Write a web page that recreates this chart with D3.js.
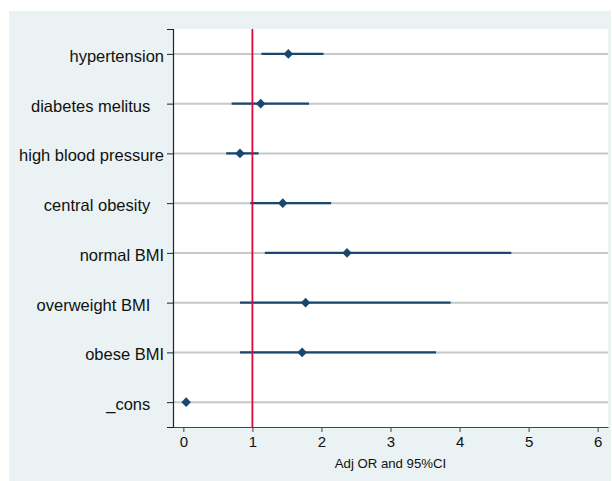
<!DOCTYPE html>
<html><head><meta charset="utf-8">
<script src="https://cdn.jsdelivr.net/npm/d3@7"></script>
<style>
body{margin:0;background:#fff;}
svg text{font-family:"Liberation Sans",Arial,Helvetica,sans-serif;fill:#111;}
</style></head>
<body><svg id="c" width="612" height="481"></svg>
<script>
const labels = ["hypertension","diabetes melitus   ","high blood pressure","central obesity   ","normal BMI","overweight BMI   ","obese BMI","_cons   "];
const or    = [1.52, 1.12, 0.82, 1.44, 2.37, 1.77, 1.72, 0.04];
const lower = [1.13, 0.70, 0.62, 0.97, 1.18, 0.82, 0.82, 0.03];
const upper = [2.03, 1.82, 1.09, 2.14, 4.75, 3.87, 3.66, 0.06];
const xTicks = [0,1,2,3,4,5,6];
const refLine = 1;

const svg = d3.select("#c");
const L = 173, R = 608, T = 29, B = 427;

svg.append("rect").attr("x",9).attr("y",11).attr("width",602).attr("height",470).attr("fill","#eaf2f3");
svg.append("rect").attr("x",L).attr("y",T).attr("width",R-L).attr("height",B-T).attr("fill","#fff");

const x = d3.scaleLinear().domain([-0.15,6.15]).range([L,R]);
const y = d3.scalePoint().domain(labels).range([T,B]).padding(0.5);

// gridlines
svg.append("g").selectAll("line").data(labels).join("line")
  .attr("x1",L).attr("x2",R).attr("y1",d=>y(d)).attr("y2",d=>y(d))
  .attr("stroke","#c4c9c9").attr("stroke-width",2);

// CIs
svg.append("g").selectAll("line").data(labels).join("line")
  .attr("x1",(d,i)=>x(lower[i])).attr("x2",(d,i)=>x(upper[i]))
  .attr("y1",d=>y(d)).attr("y2",d=>y(d))
  .attr("stroke","#1a476f").attr("stroke-width",2.2);

// reference line
svg.append("line").attr("x1",x(refLine)).attr("x2",x(refLine)).attr("y1",T).attr("y2",B)
  .attr("stroke","#dc0a3c").attr("stroke-width",1.8);

// points
svg.append("g").selectAll("path").data(labels).join("path")
  .attr("d",d3.symbol().type(d3.symbolDiamond2).size(58))
  .attr("transform",(d,i)=>`translate(${x(or[i])},${y(d)})`)
  .attr("fill","#1a476f");

// y axis
const ya = svg.append("g").attr("transform",`translate(${L},0)`)
  .call(d3.axisLeft(y).tickSize(6).tickPadding(3));
ya.select(".domain").attr("stroke","#222").attr("stroke-width",1.2);
ya.selectAll(".tick line").attr("stroke","#222");
ya.selectAll(".tick text").attr("font-size","16.5px").attr("dy","0.45em")
  .style("white-space","pre").attr("fill","#111").attr("font-family",null);

// x axis
const xa = svg.append("g").attr("transform",`translate(0,${B})`)
  .call(d3.axisBottom(x).tickValues(xTicks).tickFormat(d3.format("d")).tickSize(5).tickPadding(4).tickSizeOuter(0));
xa.select(".domain").attr("stroke","#444").attr("stroke-width",1.2);
xa.selectAll(".tick line").attr("stroke","#444");
xa.selectAll(".tick text").attr("font-size","15px").attr("fill","#111").attr("font-family",null);

svg.append("text").attr("x",(L+R)/2).attr("y",468).attr("text-anchor","middle")
  .attr("font-size","13.2px").text("Adj OR and 95%CI");
</script></body></html>
